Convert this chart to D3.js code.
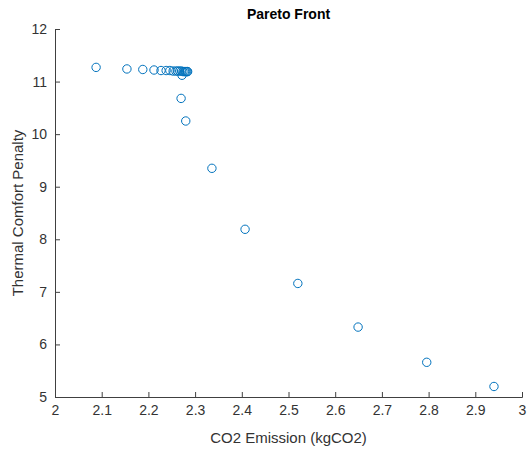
<!DOCTYPE html>
<html>
<head>
<meta charset="utf-8">
<script src="https://cdn.jsdelivr.net/npm/d3@7"></script>
<style>
  html, body { margin: 0; padding: 0; background: #fff; }
  svg { display: block; font-family: "Liberation Sans", Arial, Helvetica, sans-serif; }
</style>
</head>
<body>
<svg id="chart" width="528" height="449"></svg>
<script>
// Pareto-optimal solutions: CO2 emission vs. thermal comfort penalty
const co2Emission = [
  2.088, 2.154, 2.188, 2.212, 2.227, 2.238, 2.246, 2.253, 2.259, 2.263,
  2.267, 2.271, 2.274, 2.277, 2.279, 2.281, 2.283, 2.284,
  2.272, 2.270, 2.280, 2.336, 2.407, 2.520, 2.649, 2.796, 2.940
];
const comfortPenalty = [
  11.27, 11.24, 11.23, 11.22, 11.21, 11.21, 11.21, 11.20, 11.20, 11.20,
  11.20, 11.20, 11.19, 11.19, 11.19, 11.19, 11.19, 11.19,
  11.12, 10.68, 10.25, 9.35, 8.19, 7.16, 6.33, 5.66, 5.20
];
const xTicks = [2, 2.1, 2.2, 2.3, 2.4, 2.5, 2.6, 2.7, 2.8, 2.9, 3];
const yTicks = [5, 6, 7, 8, 9, 10, 11, 12];

const svg = d3.select("#chart");
const margin = { left: 55, right: 6, top: 29, bottom: 52 };
const W = 528, H = 449;

const x = d3.scaleLinear().domain([2, 3]).range([margin.left, W - margin.right]);
const y = d3.scaleLinear().domain([5, 12]).range([H - margin.bottom, margin.top]);

const axisColor = "#404040";
const fmt = d => d3.format("~g")(d);

// x axis with inward ticks
const gx = svg.append("g")
  .attr("transform", `translate(0,${H - margin.bottom})`)
  .call(d3.axisBottom(x).tickValues(xTicks).tickSize(-5).tickPadding(8).tickFormat(fmt));
// y axis with inward ticks
const gy = svg.append("g")
  .attr("transform", `translate(${margin.left},0)`)
  .call(d3.axisLeft(y).tickValues(yTicks).tickSize(-5).tickPadding(8).tickFormat(fmt));

[gx, gy].forEach(g => {
  g.select(".domain").attr("stroke", axisColor).attr("stroke-width", 1);
  g.selectAll(".tick line").attr("stroke", axisColor);
  g.selectAll(".tick text").attr("fill", "#333").style("font-size", "14px")
    .style("font-family", "'Liberation Sans', Arial, sans-serif");
});

// markers
svg.append("g").selectAll("circle")
  .data(co2Emission.map((v, i) => [v, comfortPenalty[i]]))
  .join("circle")
  .attr("cx", d => x(d[0]))
  .attr("cy", d => y(d[1]))
  .attr("r", 4.2)
  .attr("fill", "none")
  .attr("stroke", "#0072BD")
  .attr("stroke-width", 1);

// title and axis labels
svg.append("text")
  .attr("x", (x(2) + x(3)) / 2).attr("y", 19)
  .attr("text-anchor", "middle")
  .style("font-size", "14px").style("font-weight", "bold")
  .attr("fill", "#000")
  .text("Pareto Front");

svg.append("text")
  .attr("x", (x(2) + x(3)) / 2).attr("y", 443)
  .attr("text-anchor", "middle")
  .style("font-size", "15px")
  .attr("fill", "#333")
  .text("CO2 Emission (kgCO2)");

svg.append("text")
  .attr("transform", `translate(23,${(y(5) + y(12)) / 2}) rotate(-90)`)
  .attr("text-anchor", "middle")
  .style("font-size", "15px")
  .attr("fill", "#333")
  .text("Thermal Comfort Penalty");
</script>
</body>
</html>
